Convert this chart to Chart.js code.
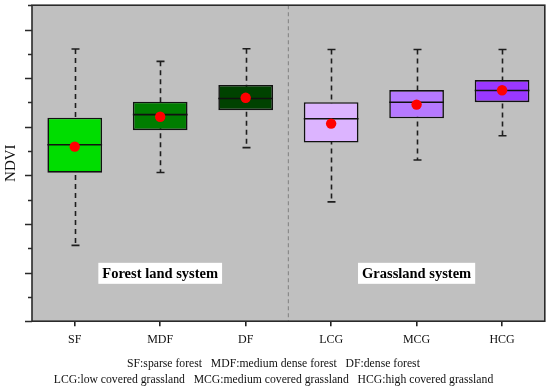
<!DOCTYPE html>
<html>
<head>
<meta charset="utf-8">
<script src="https://cdn.jsdelivr.net/npm/chart.js@4/dist/chart.umd.min.js"></script>
<style>
  html, body { margin: 0; padding: 0; background: #ffffff; }
  #wrap { width: 550px; height: 390px; }
</style>
</head>
<body>
<div id="wrap"><canvas id="c" width="550" height="390"></canvas></div>
<script>
// ---- data ----
const categories = ['SF', 'MDF', 'DF', 'LCG', 'MCG', 'HCG'];
const whiskerMin = [0.312, 0.612, 0.714, 0.491, 0.663, 0.763];
const q1Values   = [0.611, 0.786, 0.868, 0.735, 0.835, 0.901];
const medians    = [0.726, 0.850, 0.916, 0.833, 0.901, 0.949];
const q3Values   = [0.837, 0.903, 0.972, 0.901, 0.951, 0.992];
const whiskerMax = [1.120, 1.069, 1.121, 1.118, 1.118, 1.118];
const means      = [0.718, 0.841, 0.919, 0.813, 0.891, 0.950];
const boxColors  = ['#00dd00', '#007d00', '#004200', '#dcb4ff', '#b679ff', '#9a38ff'];
const groupLabels = ['Forest land system', 'Grassland system'];
const groupLabelCategory = ['MDF', 'MCG'];
const groupLabelValue = 0.197;
const captionLines = [
  'SF:sparse forest   MDF:medium dense forest   DF:dense forest',
  'LCG:low covered grassland   MCG:medium covered grassland   HCG:high covered grassland'
];
const yMin = 0, yMax = 1.3, yStep = 0.1;

const SERIF = "'Liberation Serif', 'Times New Roman', serif";
const boxRanges = q1Values.map((q, i) => [q, q3Values[i]]);

const boxPlugin = {
  id: 'boxExtras',
  beforeDraw(chart) {
    const { ctx, chartArea: a } = chart;
    ctx.save();
    ctx.fillStyle = '#c0c0c0';
    ctx.fillRect(a.left, a.top, a.right - a.left, a.bottom - a.top);
    // dashed group divider
    const xs = chart.scales.x;
    const xd = (xs.getPixelForValue(2) + xs.getPixelForValue(3)) / 2;
    ctx.strokeStyle = '#8a8a8a';
    ctx.lineWidth = 1.2;
    ctx.setLineDash([4, 3]);
    ctx.beginPath();
    ctx.moveTo(xd, a.top);
    ctx.lineTo(xd, a.bottom);
    ctx.stroke();
    ctx.restore();
  },
  beforeDatasetsDraw(chart) {
    const { ctx } = chart;
    const xs = chart.scales.x, ys = chart.scales.y;
    ctx.save();
    ctx.strokeStyle = '#1e1e1e';
    ctx.lineWidth = 1.6;
    categories.forEach((c, i) => {
      const x = Math.round(xs.getPixelForValue(i)) + 0.5;
      const yTop = ys.getPixelForValue(whiskerMax[i]);
      const yBot = ys.getPixelForValue(whiskerMin[i]);
      ctx.setLineDash([5, 4]);
      ctx.beginPath();
      ctx.moveTo(x, yTop);
      ctx.lineTo(x, yBot);
      ctx.stroke();
      ctx.setLineDash([]);
      ctx.beginPath();
      ctx.moveTo(x - 4, yTop); ctx.lineTo(x + 4, yTop);
      ctx.moveTo(x - 4, yBot); ctx.lineTo(x + 4, yBot);
      ctx.stroke();
    });
    ctx.restore();
  },
  afterDatasetDraw(chart, args) {
    if (args.meta.type !== 'bar') return;
    const { ctx } = chart;
    const ys = chart.scales.y;
    ctx.save();
    ctx.strokeStyle = '#111';
    ctx.lineWidth = 1.6;
    args.meta.data.forEach((bar, i) => {
      const y = ys.getPixelForValue(medians[i]);
      ctx.beginPath();
      ctx.moveTo(bar.x - bar.width / 2, y);
      ctx.lineTo(bar.x + bar.width / 2, y);
      ctx.stroke();
    });
    ctx.restore();
  },
  afterDraw(chart) {
    const { ctx, chartArea: a } = chart;
    const xs = chart.scales.x, ys = chart.scales.y;
    ctx.save();
    // frame
    ctx.strokeStyle = '#2a2a2a';
    ctx.lineWidth = 1.6;
    ctx.strokeRect(a.left, a.top, a.right - a.left, a.bottom - a.top);
    // y ticks (major every 2 steps, minor otherwise)
    const n = Math.round((yMax - yMin) / yStep);
    ctx.beginPath();
    for (let k = 0; k <= n; k++) {
      const v = yMin + k * yStep;
      const y = Math.round(ys.getPixelForValue(v)) + 0.5;
      const len = (k % 2 === 0) ? 7 : 4;
      ctx.moveTo(a.left, y);
      ctx.lineTo(a.left - len, y);
    }
    ctx.stroke();
    // group labels
    ctx.font = 'bold 14.5px ' + SERIF;
    ctx.textAlign = 'center';
    ctx.textBaseline = 'middle';
    groupLabels.forEach((t, i) => {
      const x = xs.getPixelForValue(categories.indexOf(groupLabelCategory[i]));
      const y = ys.getPixelForValue(groupLabelValue);
      const w = ctx.measureText(t).width + 8;
      ctx.fillStyle = '#ffffff';
      ctx.fillRect(x - w / 2, y - 10.5, w, 21);
      ctx.fillStyle = '#000000';
      ctx.fillText(t, x, y + 1);
    });
    ctx.restore();
  }
};

new Chart(document.getElementById('c'), {
  type: 'bar',
  data: {
    labels: categories,
    datasets: [
      {
        type: 'line',
        label: 'Mean',
        data: means,
        showLine: false,
        pointRadius: 5.2,
        pointBackgroundColor: '#ff0000',
        pointBorderColor: '#ff0000',
        pointBorderWidth: 0
      },
      {
        type: 'bar',
        label: 'Box',
        data: boxRanges,
        backgroundColor: boxColors,
        borderColor: '#111111',
        borderWidth: 1.6,
        borderSkipped: false,
        barPercentage: 0.64,
        categoryPercentage: 1.0
      }
    ]
  },
  options: {
    responsive: false,
    animation: false,
    layout: { padding: { top: 4, right: 3, left: 0, bottom: 0 } },
    plugins: {
      legend: { display: false },
      tooltip: { enabled: false },
      title: {
        display: true,
        position: 'bottom',
        text: captionLines,
        color: '#111',
        font: { family: SERIF, size: 11.7, weight: 'normal', lineHeight: 1.38 },
        padding: { top: 6, bottom: 2 }
      }
    },
    scales: {
      x: {
        offset: true,
        border: { display: false },
        grid: { offset: false, drawOnChartArea: false, tickLength: 5, color: '#222', lineWidth: 1.6 },
        ticks: { color: '#111', font: { family: SERIF, size: 12 }, padding: 6 },
        afterFit(s) { s.height = 28.5; }
      },
      y: {
        min: yMin,
        max: yMax,
        border: { display: false },
        grid: { display: false },
        ticks: { display: false, stepSize: yStep },
        title: {
          display: true,
          text: 'NDVI',
          color: '#111',
          font: { family: SERIF, size: 15 },
          padding: { top: 2, bottom: 0 }
        },
        afterFit(s) { s.width = 32; }
      }
    }
  },
  plugins: [boxPlugin]
});
</script>
</body>
</html>
